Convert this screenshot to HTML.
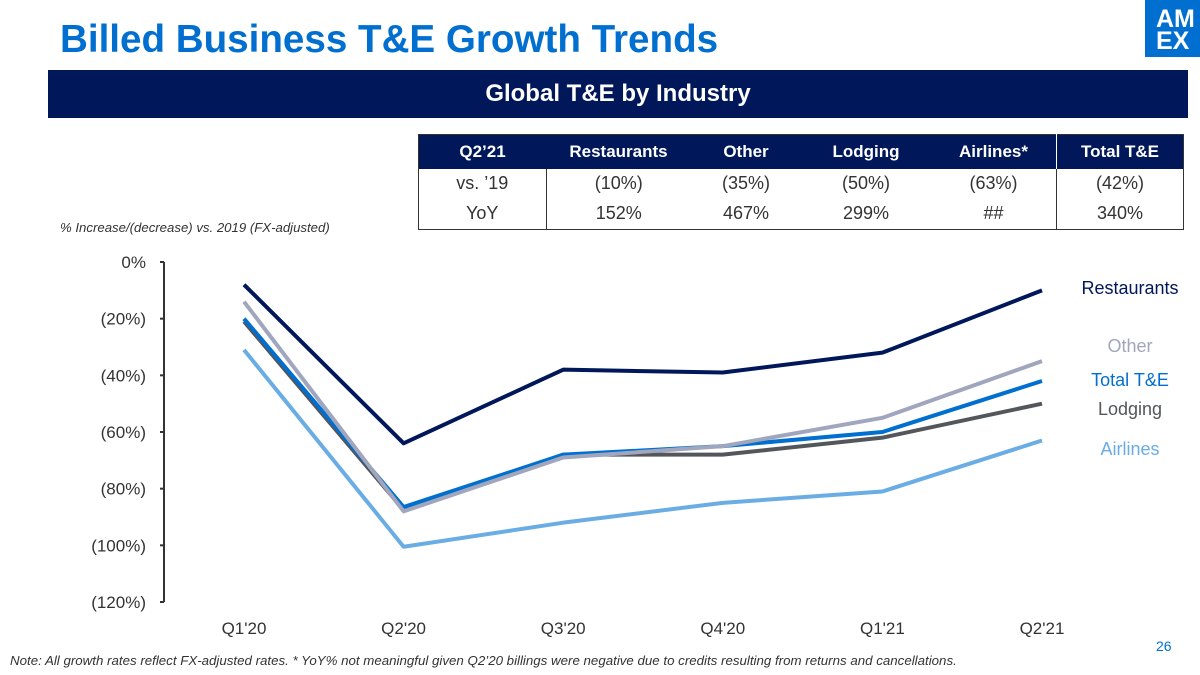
<!DOCTYPE html>
<html><head><meta charset="utf-8"><style>
body{margin:0;width:1200px;height:675px;background:#fff;font-family:"Liberation Sans",Arial,sans-serif;position:relative;overflow:hidden}
.abs{position:absolute}
table{border-collapse:collapse;font-size:18px}
td{text-align:center;height:30px;padding:0}
</style></head><body>
<div class="abs" style="left:60px;top:18px;font-size:38.6px;font-weight:bold;color:#006fcf">Billed Business T&amp;E Growth Trends</div>
<div class="abs" style="left:1145px;top:0;width:60px;height:57px;background:#016fd0;color:#fff;font-weight:bold;font-size:25px;line-height:22px;padding:8px 0 0 11px;box-sizing:border-box">AM<br>EX</div>
<div class="abs" style="left:48px;top:70px;width:1140px;height:48px;background:#00175a;color:#fff;font-weight:bold;font-size:24px;line-height:48px;text-align:center">Global T&amp;E by Industry</div>
<table class="abs" style="left:418px;top:134px;width:766px;border:1px solid #333;table-layout:fixed">
<tr style="background:#00175a;color:#fff;font-weight:bold;height:34px;font-size:17px"><td style="width:127px">Q2’21</td><td style="width:145px">Restaurants</td><td style="width:110px">Other</td><td style="width:130px">Lodging</td><td style="width:125px;border-right:1px solid #fff">Airlines*</td><td>Total T&amp;E</td></tr>
<tr style="color:#333"><td style="border-right:1px solid #333">vs. ’19</td><td>(10%)</td><td>(35%)</td><td>(50%)</td><td style="border-right:1px solid #333">(63%)</td><td>(42%)</td></tr>
<tr style="color:#333"><td style="border-right:1px solid #333">YoY</td><td>152%</td><td>467%</td><td>299%</td><td style="border-right:1px solid #333">##</td><td>340%</td></tr>
</table>
<div class="abs" style="left:60px;top:220px;font-size:13.2px;font-style:italic;color:#333">% Increase/(decrease) vs. 2019 (FX-adjusted)</div>
<svg class="abs" style="left:0;top:0" width="1200" height="675" id="chart"></svg>
<div class="abs" style="left:10px;top:653px;font-size:13.3px;font-style:italic;color:#333">Note: All growth rates reflect FX-adjusted rates. * YoY% not meaningful given Q2’20 billings were negative due to credits resulting from returns and cancellations.</div>
<div class="abs" style="left:1156px;top:638px;font-size:14px;color:#006fcf">26</div>
<script>
const categories=["Q1'20","Q2'20","Q3'20","Q4'20","Q1'21","Q2'21"];
const yTicks=[0,-20,-40,-60,-80,-100,-120];
const tickLabels=["0%","(20%)","(40%)","(60%)","(80%)","(100%)","(120%)"];
const seriesNames=["Airlines","Lodging","Total T&E","Other","Restaurants"];
const airlines=[-31,-100.5,-92,-85,-81,-63];
const lodging=[-21,-87.5,-68,-68,-62,-50];
const totalTE=[-20,-86.5,-68,-65,-60,-42];
const other=[-14,-88,-69,-65,-55,-35];
const restaurants=[-8,-64,-38,-39,-32,-10];
const colors=["#6aade4","#53565a","#006fcf","#a0a6bd","#00175a"];
const labelY=[449,409,380,346,288];
const series=[airlines,lodging,totalTE,other,restaurants];
const svg=document.getElementById('chart');const NS="http://www.w3.org/2000/svg";
const x=i=>244+i*159.6;const y=v=>262-v*340/120;
function mk(t,a){const e=document.createElementNS(NS,t);for(const k in a)e.setAttribute(k,a[k]);svg.appendChild(e);return e;}
let ax=mk('line',{x1:164,y1:262,x2:164,y2:602,stroke:'#333','stroke-width':2});


yTicks.forEach((v,i)=>{mk('line',{x1:160,x2:164,y1:y(v),y2:y(v),stroke:'#333','stroke-width':2});
const t=mk('text',{x:146,y:y(v)+6,'text-anchor':'end','font-size':17,fill:'#333'});t.textContent=tickLabels[i];

});
categories.forEach((c,i)=>{const t=mk('text',{x:x(i),y:634,'text-anchor':'middle','font-size':17,fill:'#333'});t.textContent=c;

});
series.forEach((s,k)=>{const p=mk('polyline',{points:s.map((v,i)=>x(i)+','+y(v)).join(' '),fill:'none',stroke:colors[k],'stroke-width':4,'stroke-linejoin':'round'});


const t=mk('text',{x:1130,y:labelY[k]+6,'text-anchor':'middle','font-size':18,fill:colors[k]});t.textContent=seriesNames[k];

});
</script>
</body></html>
